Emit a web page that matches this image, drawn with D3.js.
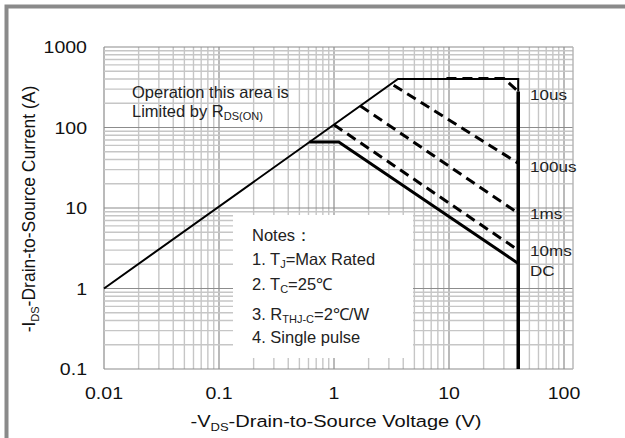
<!DOCTYPE html>
<html>
<head>
<meta charset="utf-8">
<script src="https://cdn.jsdelivr.net/npm/d3@7"></script>
<style>
  body { margin: 0; background: #fff; }
  svg { display: block; font-family: "Liberation Sans", Arial, sans-serif; }
</style>
</head>
<body>
<svg id="chart"></svg>
<script>
// Safe operating area curves (V in volts, I in amps)
const limitV = [0.01, 3.6, 40, 40];
const limitI = [1, 400, 400, 280];

// drain-source voltage limit (thick vertical)
const vmaxV = [40, 40];
const vmaxI = [280, 0.1];

const dcV = [0.61, 1.1, 40];
const dcI = [66, 66, 2.05];

const pulseNames = ["10us", "100us", "1ms", "10ms"];
const pulseV = [[9.5, 30, 40], [3.3, 40], [1.7, 40], [1.0, 40]];
const pulseI = [[406, 406, 280], [335, 36], [185, 8.6], [108, 3.0]];

// curve labels on the right and the current they sit at
const curveLabels = ["10us", "100us", "1ms", "10ms", "DC"];
const curveLabelI = [257, 32.8, 8.55, 2.97, 1.67];

const xTickLabels = ["0.01", "0.1", "1", "10", "100"];
const yTickLabels = ["0.1", "1", "10", "100", "1000"];

const notes = [
  ["Notes："],
  ["1. T", "J", "=Max Rated"],
  ["2. T", "C", "=25℃"],
  ["3. R", "THJ-C", "=2℃/W"],
  ["4. Single pulse"]
];

const svgWidth = 625;
const svgHeight = 438;
const plotLeft = 104, plotRight = 573, plotTop = 47, plotBottom = 369;

const svg = d3.select("#chart")
  .attr("width", svgWidth)
  .attr("height", svgHeight);

const xScale = d3.scaleLog()
  .domain([0.01, 100])
  .range([plotLeft, 564]);

const yScale = d3.scaleLog()
  .domain([0.1, 1000])
  .range([plotBottom, plotTop]);

const isMajor = v => Math.abs(Math.log10(v) - Math.round(Math.log10(v))) < 1e-9;

// grid
const grid = svg.append("g");
grid.selectAll("line.v")
  .data(xScale.ticks())
  .enter().append("line")
  .attr("x1", d => xScale(d)).attr("x2", d => xScale(d))
  .attr("y1", plotTop).attr("y2", plotBottom)
  .attr("stroke", d => isMajor(d) ? "#8c8c8c" : "#c6c6c6")
  .attr("stroke-width", d => isMajor(d) ? 1.2 : 1.4);

grid.selectAll("line.h")
  .data(yScale.ticks())
  .enter().append("line")
  .attr("x1", plotLeft).attr("x2", plotRight)
  .attr("y1", d => yScale(d)).attr("y2", d => yScale(d))
  .attr("stroke", d => isMajor(d) ? "#8c8c8c" : "#c6c6c6")
  .attr("stroke-width", d => isMajor(d) ? 1.2 : 1.4);

grid.append("line")
  .attr("x1", plotRight).attr("x2", plotRight)
  .attr("y1", plotTop).attr("y2", plotBottom)
  .attr("stroke", "#b4b4b4")
  .attr("stroke-width", 1.4);

// notes box hides the grid behind it
svg.append("rect")
  .attr("x", 233).attr("y", 215)
  .attr("width", 180).attr("height", 143)
  .attr("fill", "#fff");

const line = d3.line()
  .x(d => xScale(d[0]))
  .y(d => yScale(d[1]));

svg.append("path")
  .datum(d3.zip(limitV, limitI))
  .attr("d", line)
  .attr("fill", "none")
  .attr("stroke", "#000")
  .attr("stroke-width", 2);

pulseNames.forEach((name, i) => {
  svg.append("path")
    .datum(d3.zip(pulseV[i], pulseI[i]))
    .attr("d", line)
    .attr("fill", "none")
    .attr("stroke", "#000")
    .attr("stroke-width", 3)
    .attr("stroke-dasharray", "10,6");
});

svg.append("path")
  .datum(d3.zip(dcV, dcI))
  .attr("d", line)
  .attr("fill", "none")
  .attr("stroke", "#000")
  .attr("stroke-width", 3);

svg.append("path")
  .datum(d3.zip(vmaxV, vmaxI))
  .attr("d", line)
  .attr("fill", "none")
  .attr("stroke", "#000")
  .attr("stroke-width", 3.5);

// tick labels (the original font is a bit wide, so stretch it)
svg.selectAll("text.xt")
  .data(xTickLabels)
  .enter().append("text")
  .attr("transform", d => `translate(${xScale(+d)},399) scale(1.15,1)`)
  .attr("text-anchor", "middle")
  .attr("font-size", 17)
  .attr("fill", "#111")
  .text(d => d);

svg.selectAll("text.yt")
  .data(yTickLabels)
  .enter().append("text")
  .attr("transform", d => `translate(87,${yScale(+d) + 6}) scale(1.15,1)`)
  .attr("text-anchor", "end")
  .attr("font-size", 17)
  .attr("fill", "#111")
  .text(d => d);

// curve labels
svg.selectAll("text.cl")
  .data(curveLabels)
  .enter().append("text")
  .attr("transform", (d, i) => `translate(530,${yScale(curveLabelI[i]) + 5.5}) scale(1.1,1)`)
  .attr("font-size", 15.5)
  .attr("fill", "#222")
  .text(d => d);

// axis titles
const xTitle = svg.append("text")
  .attr("transform", "translate(336,427) scale(1.18,1)")
  .attr("text-anchor", "middle")
  .attr("font-size", 17)
  .attr("fill", "#111");
xTitle.append("tspan").text("-V");
xTitle.append("tspan").attr("font-size", 11).attr("dy", 4).text("DS");
xTitle.append("tspan").attr("dy", -4).text("-Drain-to-Source Voltage  (V)");

const yTitle = svg.append("text")
  .attr("transform", "translate(35,209) rotate(-90)")
  .attr("text-anchor", "middle")
  .attr("font-size", 17.5)
  .attr("fill", "#111");
yTitle.append("tspan").text("-I");
yTitle.append("tspan").attr("font-size", 11).attr("dy", 4).text("DS");
yTitle.append("tspan").attr("dy", -4).text("-Drain-to-Source Current (A)");

// annotation
svg.append("text")
  .attr("x", 132).attr("y", 98)
  .attr("font-size", 16.5)
  .attr("fill", "#222")
  .text("Operation this area is");
const lim = svg.append("text")
  .attr("x", 132).attr("y", 117)
  .attr("font-size", 16.5)
  .attr("fill", "#222");
lim.append("tspan").text("Limited  by R");
lim.append("tspan").attr("font-size", 11).attr("dy", 3).text("DS(ON)");

// notes
const noteY = [241, 265, 290, 320, 343];
notes.forEach((n, i) => {
  const t = svg.append("text")
    .attr("x", 252).attr("y", noteY[i])
    .attr("font-size", 16.5)
    .attr("fill", "#222");
  t.append("tspan").text(n[0]);
  if (n.length > 2) {
    t.append("tspan").attr("font-size", 11).attr("dy", 3).text(n[1]);
    t.append("tspan").attr("dy", -3).text(n[2]);
  }
});

// gray frame on the top and left
svg.append("path")
  .attr("d", "M6.5,438V6.5H625")
  .attr("fill", "none")
  .attr("stroke", "#8a8a8a")
  .attr("stroke-width", 4);
</script>
</body>
</html>
